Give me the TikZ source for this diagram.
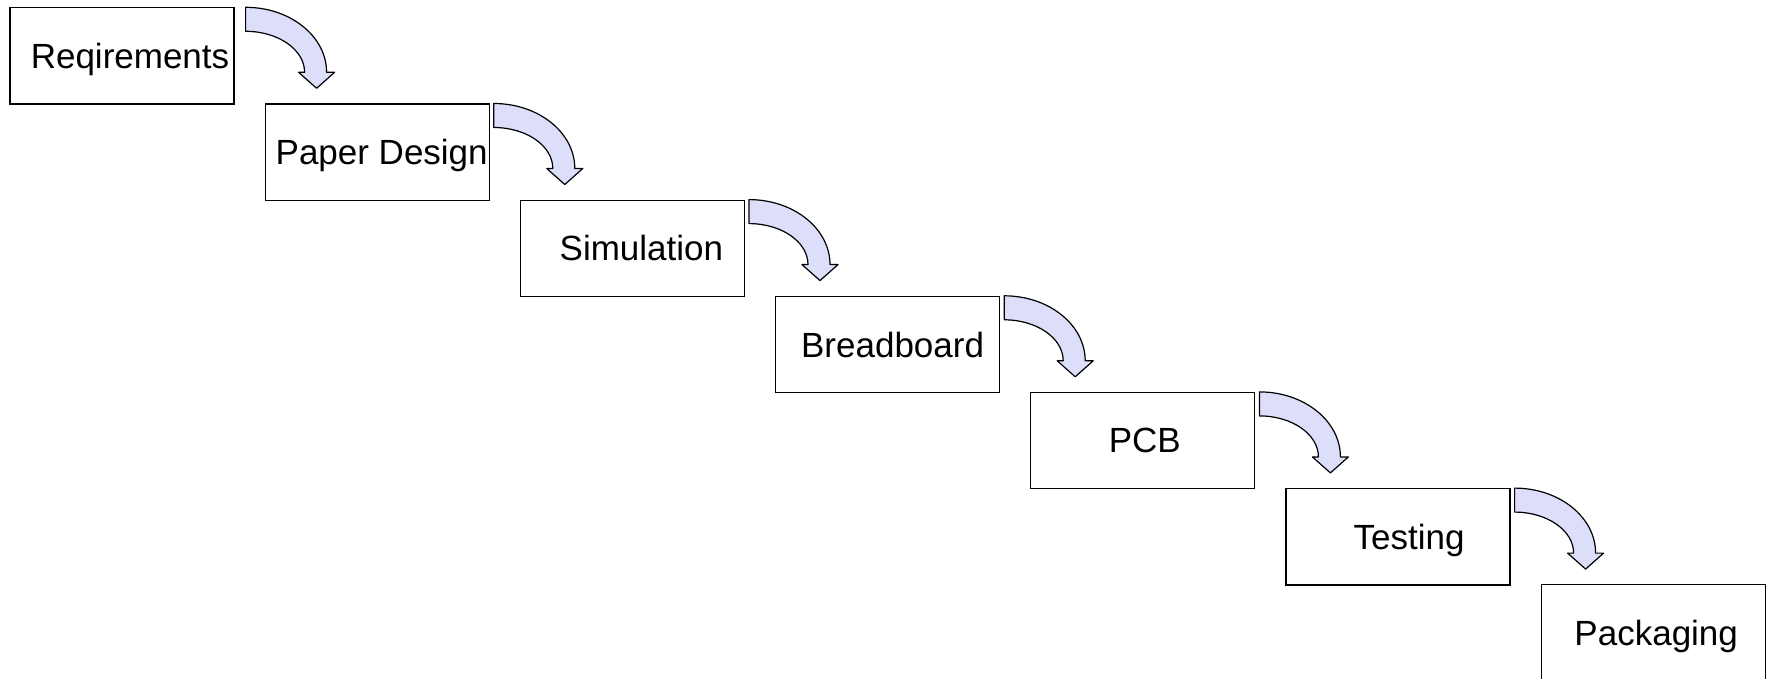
\documentclass[tikz,border=0pt]{standalone}
\usepackage{fontspec}
\setmainfont{Liberation Sans}
\usepackage{tikz}
\definecolor{arrowblue}{RGB}{221,222,250}

\begin{document}
\begin{tikzpicture}[x=0.5pt, y=-0.5pt,
		every node/.style={rectangle, draw, line width=0.6pt, minimum width=112pt, minimum height=48.1pt, inner sep=0pt, text depth=0pt, font=\fontsize{17.5}{21}\selectfont},
		bendarrow/.pic={
			\draw[line width=0.6pt, fill=arrowblue, line join=round]
				(0,0) arc[start angle=-90, end angle=0, x radius=81, y radius=65]
				-- (89,65) -- (71,81) -- (53,65) -- (59,65)
				arc[start angle=0, end angle=-90, x radius=59, y radius=41] -- cycle;
		}]
				\useasboundingbox (0,0) rectangle (1767,679);
				\node(Req) at (122, 56) {\hspace*{8pt}Reqirements};
				\node(Pap) at (377.2, 152.2) {\hspace*{4.5pt}Paper Design};
				\node(Sim) at (632.4, 248.3) {\hspace*{9pt}Simulation};
				\node(Bread) at (887.6, 344.5) {\hspace*{5pt}Breadboard};
				\node(PCB) at (1142.8, 440.6) {\hspace*{2pt}PCB};
				\node(Test) at (1398, 536.8) {\hspace*{11pt}Testing};
				\node(Pack) at (1653.2, 632.9) {\hspace*{3pt}Packaging};
				\pic at ([xshift=5.5pt]Req.north east) {bendarrow};
				\pic at ([xshift=2pt]Pap.north east) {bendarrow};
				\pic at ([xshift=2pt]Sim.north east) {bendarrow};
				\pic at ([xshift=2pt]Bread.north east) {bendarrow};
				\pic at ([xshift=2pt]PCB.north east) {bendarrow};
				\pic at ([xshift=2pt]Test.north east) {bendarrow};
		\end{tikzpicture}
\end{document}
